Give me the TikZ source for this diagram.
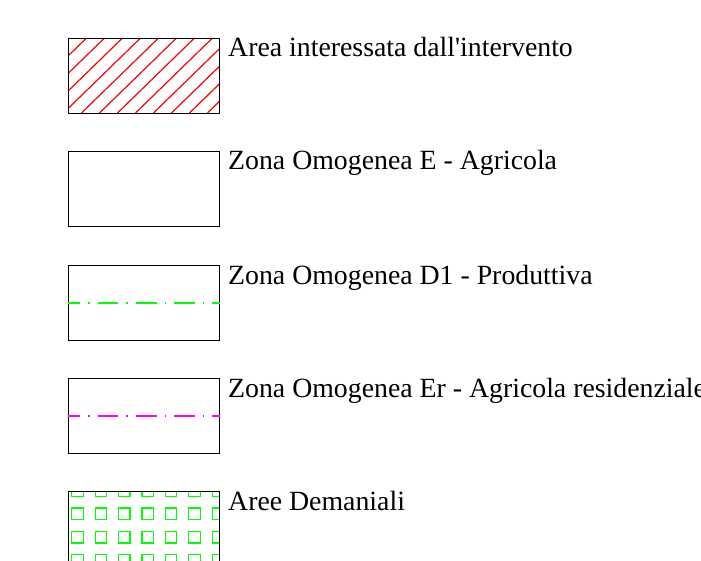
\documentclass[tikz,border=0pt]{standalone}
\usepackage{fontspec}
\setmainfont{Liberation Serif}
\usepackage{xcolor}
\usetikzlibrary{positioning}
\definecolor{hatchred}{rgb}{1,0,0}
\definecolor{zonegreen}{rgb}{0,1,0}
\definecolor{zonemagenta}{rgb}{1,0,1}

\begin{document}
\begin{tikzpicture}[x=1pt, y=-1pt,
    legendbox/.style={draw=black, line width=0.8pt, minimum width=151pt, minimum height=75pt, inner sep=0pt, anchor=north west},
    legendlabel/.style={anchor=base west, inner sep=0pt, font=\fontsize{27.8}{30}\selectfont},
    dashdot/.style={line width=1.2pt, dash pattern=on 20.7pt off 8pt on 1.5pt off 8pt, dash phase=8.6pt}]

    \useasboundingbox (0,0) rectangle (701,561);
    \clip (0,0) rectangle (701,561);

    % legend boxes
    \node[legendbox] (area) at (68, 38) {};
    \node[legendbox] (zonaE) at (68, 151) {};
    \node[legendbox] (zonaD) at (68, 265) {};
    \node[legendbox] (zonaEr) at (68, 378) {};
    \node[legendbox] (demanio) at (68, 491) {};

    % hatching of the intervention area
    \begin{scope}
        \clip (area.south west) rectangle (area.north east);
        \foreach \k in {-5,...,9}
            \draw[draw=hatchred, line width=1.2pt] (81.5+\k*18, 113) -- ++(77, -75);
    \end{scope}
    \draw[line width=0.8pt] (area.south west) rectangle (area.north east);

    % zone boundaries
    \draw[draw=zonegreen, dashdot] (zonaD.west) -- (zonaD.east);
    \draw[draw=zonemagenta, dashdot] (zonaEr.west) -- (zonaEr.east);

    % squares of the state areas
    \begin{scope}
        \clip (demanio.south west) rectangle (demanio.north east);
        \foreach \i in {0,...,6}
            \foreach \j in {-1,...,3}
                \draw[draw=zonegreen, line width=1.2pt] (71.7+\i*23.4, 508+\j*23.4) rectangle ++(11.5, 11.5);
    \end{scope}
    \draw[line width=0.8pt] (demanio.south west) rectangle (demanio.north east);

    % labels
    \node[legendlabel] (areaText) at (228, 57) {Area interessata dall\textquotesingle intervento};
    \node[legendlabel] (zonaEText) at (228, 170) {Zona Omogenea E - Agricola};
    \node[legendlabel] (zonaDText) at (228, 284) {Zona Omogenea D1 - Produttiva};
    \node[legendlabel] (zonaErText) at (228, 397) {Zona Omogenea Er - Agricola residenziale};
    \node[legendlabel] (demanioText) at (228, 510) {Aree Demaniali};
\end{tikzpicture}
\end{document}
